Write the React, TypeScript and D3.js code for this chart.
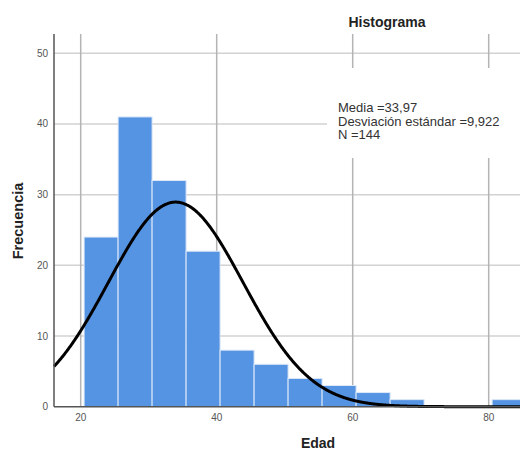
import React, { useEffect, useRef } from "react"
import * as d3 from "d3"

// histogram bins (lower edges) and counts read from the SPSS output
const binStarts = [20.5, 25.5, 30.5, 35.5, 40.5, 45.5, 50.5, 55.5, 60.5, 65.5, 70.5, 75.5, 80.5]
const counts = [24, 41, 32, 22, 8, 6, 4, 3, 2, 1, 0, 0, 1]
const binWidth = 5
const xTicks = [20, 40, 60, 80]
const yTicks = [0, 10, 20, 30, 40, 50]
const stats = ["Media =33,97", "Desviación estándar =9,922", "N =144"]
const media = 33.97
const desv = 9.922
const n = 144

const W = 520
const H = 450
const FONT = "'Liberation Sans', Arial, sans-serif"

const drawHistogram = (svgEl: SVGSVGElement) => {
  const svg = d3.select(svgEl)
  svg.selectAll("*").remove()

  const x = d3.scaleLinear().domain([20, 80]).range([80.7, 488.7])
  const y = d3.scaleLinear().domain([0, 50]).range([406.7, 53.3])
  const left = 54
  const right = W
  const top = 34
  const bottom = y(0)

  // horizontal grid
  svg
    .selectAll("line.hgrid")
    .data(yTicks.filter(d => d > 0))
    .enter()
    .append("line")
    .attr("x1", left)
    .attr("x2", right)
    .attr("y1", d => y(d))
    .attr("y2", d => y(d))
    .attr("stroke", "#d2d2d2")
    .attr("stroke-width", 1.5)

  // vertical grid
  svg
    .selectAll("line.vgrid")
    .data(xTicks)
    .enter()
    .append("line")
    .attr("x1", d => x(d))
    .attr("x2", d => x(d))
    .attr("y1", top)
    .attr("y2", bottom)
    .attr("stroke", "#b4b4b4")
    .attr("stroke-width", 1.5)

  // bars
  svg
    .selectAll("rect.bar")
    .data(binStarts.map((s, i) => ({ s, c: counts[i] })).filter(d => d.c > 0))
    .enter()
    .append("rect")
    .attr("x", d => x(d.s))
    .attr("width", d => x(d.s + binWidth) - x(d.s))
    .attr("y", d => y(d.c))
    .attr("height", d => y(0) - y(d.c))
    .attr("fill", "#5593e3")
    .attr("stroke", "#dde9f8")
    .attr("stroke-width", 1)

  // normal curve
  const peak = (n * binWidth) / (desv * Math.sqrt(2 * Math.PI))
  const normal = (v: number) => peak * Math.exp(-0.5 * ((v - media) / desv) ** 2)
  const xs = d3.range(x.invert(left), x.invert(right), 0.1)
  xs.push(x.invert(right))
  svg
    .append("path")
    .datum(xs)
    .attr("d", d3.line<number>().x(d => x(d)).y(d => y(normal(d))).curve(d3.curveBasis))
    .attr("fill", "none")
    .attr("stroke", "#000")
    .attr("stroke-width", 3)

  // stats box
  svg.append("rect").attr("x", 327).attr("y", 68).attr("width", 200).attr("height", 90).attr("fill", "#fff")
  svg
    .selectAll("text.stat")
    .data(stats)
    .enter()
    .append("text")
    .attr("x", 338)
    .attr("y", (d, i) => 112 + i * 13.5)
    .attr("font-family", FONT)
    .attr("font-size", 13)
    .attr("fill", "#333")
    .text(d => d)

  // axes
  svg.append("line").attr("x1", left).attr("x2", left).attr("y1", top).attr("y2", bottom).attr("stroke", "#555").attr("stroke-width", 1.5)
  svg.append("line").attr("x1", left).attr("x2", right).attr("y1", bottom).attr("y2", bottom).attr("stroke", "#555").attr("stroke-width", 1.5)

  svg
    .selectAll("text.ytick")
    .data(yTicks)
    .enter()
    .append("text")
    .attr("x", 48)
    .attr("y", d => y(d) + 3.5)
    .attr("text-anchor", "end")
    .attr("font-family", FONT)
    .attr("font-size", 10)
    .attr("fill", "#555")
    .text(d => d)

  svg
    .selectAll("text.xtick")
    .data(xTicks)
    .enter()
    .append("text")
    .attr("x", d => x(d))
    .attr("y", 421)
    .attr("text-anchor", "middle")
    .attr("font-family", FONT)
    .attr("font-size", 10)
    .attr("fill", "#555")
    .text(d => d)

  // titles
  svg.append("text").attr("x", 387).attr("y", 27).attr("text-anchor", "middle").attr("font-family", FONT).attr("font-size", 14).attr("font-weight", "bold").attr("fill", "#222").text("Histograma")
  svg.append("text").attr("x", 318).attr("y", 448).attr("text-anchor", "middle").attr("font-family", FONT).attr("font-size", 14).attr("font-weight", "bold").attr("fill", "#222").text("Edad")
  svg
    .append("text")
    .attr("transform", "translate(23,221) rotate(-90)")
    .attr("text-anchor", "middle")
    .attr("font-family", FONT)
    .attr("font-size", 14.5)
    .attr("font-weight", "bold")
    .attr("fill", "#222")
    .text("Frecuencia")
}

export default function App() {
  const ref = useRef<SVGSVGElement>(null)
  useEffect(() => {
    if (ref.current) drawHistogram(ref.current)
  }, [])
  return (
    <svg
      ref={ref}
      width={W}
      height={H}
      style={{ position: "absolute", left: 0, top: 0, background: "#fff" }}
    />
  )
}
